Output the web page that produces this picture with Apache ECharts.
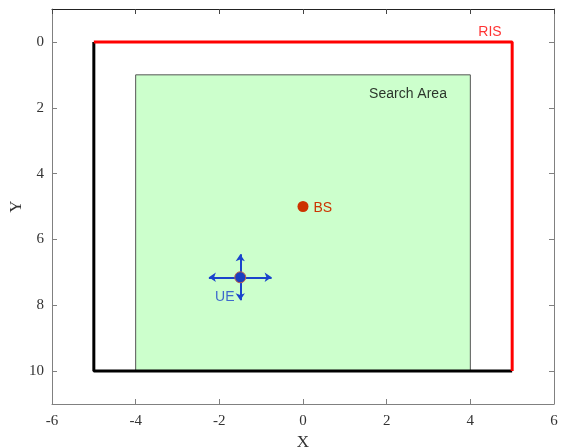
<!DOCTYPE html>
<html><head><meta charset="utf-8">
<script src="https://cdn.jsdelivr.net/npm/echarts@6/dist/echarts.min.js"></script>
<style>html,body{margin:0;padding:0;background:#fff}#c{width:561px;height:447px}</style>
</head><body><div id="c"></div>
<script>
const xTicks = [-6, -4, -2, 0, 2, 4, 6];
const yTicks = [0, 2, 4, 6, 8, 10];
const risLine = [[-5, 0], [5, 0], [5, 10]];
const wallLine = [[-5, 0], [-5, 10], [5, 10]];
const searchArea = [[-4, 1], [4, 10]];
const bsPoint = [0, 5];
const uePoint = [-1.5, 7.15];
const ueArrowH = [[-2.25, 7.15], [-0.75, 7.15]];
const ueArrowV = [[-1.5, 6.45], [-1.5, 7.85]];
const textLabels = [
  { name: 'RIS', pos: [4.47, -0.3], color: '#ff0000' },
  { name: 'Search Area', pos: [2.51, 1.59], color: '#000000' },
  { name: 'UE', pos: [-1.87, 7.76], color: '#1a44cc' }
];

const serif = 'Liberation Serif';
const sans = 'Liberation Sans';
const chart = echarts.init(document.getElementById('c'));
const axCol = '#808080';
chart.setOption({
  animation: false,
  grid: { left: 52, right: 7, top: 9, bottom: 43, containLabel: false, outerBoundsMode: 'none' },
  xAxis: [
    { type: 'value', min: -6, max: 6, interval: 2, position: 'bottom',
      axisLine: { onZero: false, lineStyle: { color: axCol } },
      axisTick: { inside: true, length: 5, lineStyle: { color: axCol } },
      axisLabel: { color: '#333', fontFamily: serif, fontSize: 15, margin: 10 },
      splitLine: { show: false },
      name: 'X', nameLocation: 'middle', nameGap: 30,
      nameTextStyle: { fontFamily: serif, fontSize: 17, color: '#333' } },
    { type: 'value', min: -6, max: 6, interval: 2, position: 'top',
      axisLine: { onZero: false, lineStyle: { color: '#222' } },
      axisTick: { inside: true, length: 5, lineStyle: { color: '#444' } },
      axisLabel: { show: false }, splitLine: { show: false } }
  ],
  yAxis: [
    { type: 'value', min: -1, max: 11, inverse: true, position: 'left',
      axisLine: { onZero: false, lineStyle: { color: axCol } },
      axisTick: { inside: true, length: 5, customValues: yTicks, lineStyle: { color: axCol } },
      axisLabel: { customValues: yTicks, color: '#333', fontFamily: serif, fontSize: 15, margin: 8 },
      splitLine: { show: false },
      name: 'Y', nameLocation: 'middle', nameGap: 27, nameRotate: 90, nameMoveOverlap: false,
      nameTextStyle: { fontFamily: serif, fontSize: 17, color: '#333' } },
    { type: 'value', min: -1, max: 11, inverse: true, position: 'right',
      axisLine: { onZero: false, lineStyle: { color: axCol } },
      axisTick: { inside: true, length: 5, customValues: yTicks, lineStyle: { color: axCol } },
      axisLabel: { show: false }, splitLine: { show: false } }
  ],
  series: [
    { type: 'line', data: [], silent: true,
      markArea: { silent: true,
        itemStyle: { color: '#ccffcc', borderColor: '#555', borderWidth: 1, opacity: 1 },
        data: [[{ coord: searchArea[0] }, { coord: searchArea[1] }]] } },
    { type: 'line', data: wallLine, symbol: 'none', lineStyle: { color: '#000', width: 3 } },
    { type: 'line', data: risLine, symbol: 'none', lineStyle: { color: '#ff0000', width: 3 } },
    { type: 'lines', coordinateSystem: 'cartesian2d', polyline: false,
      symbol: ['arrow', 'arrow'], symbolSize: 7,
      lineStyle: { color: '#1a44cc', width: 2, opacity: 1 },
      data: [{ coords: ueArrowH }, { coords: ueArrowV }] },
    { type: 'scatter', data: [bsPoint], symbol: 'circle', symbolSize: 11,
      itemStyle: { color: '#cc3300', opacity: 1 },
      label: { show: true, position: 'right', distance: 5, offset: [0, 2], formatter: 'BS',
        color: '#cc3300', fontFamily: sans, fontSize: 14 } },
    { type: 'scatter', data: [uePoint], symbol: 'circle', symbolSize: 11,
      itemStyle: { color: '#1a3fbf', borderColor: '#c0604a', borderWidth: 1, opacity: 1 } },
    { type: 'scatter', symbolSize: 0,
      data: textLabels.map(t => ({ value: t.pos, name: t.name,
        label: { color: t.color } })),
      label: { show: true, position: 'inside', formatter: '{b}', fontFamily: sans, fontSize: 14 } }
  ]
});
</script></body></html>
